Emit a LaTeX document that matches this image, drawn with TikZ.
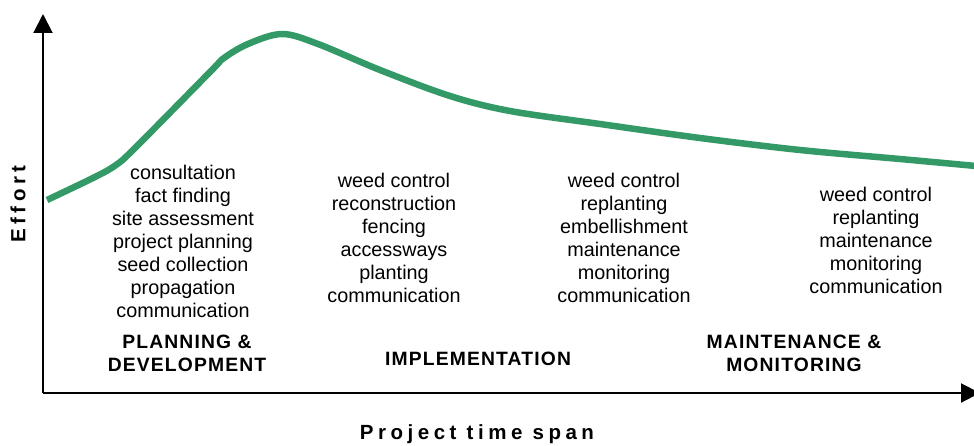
\documentclass[tikz,border=0pt]{standalone}
\usepackage{fontspec}
\setmainfont{Liberation Sans}
\newfontfamily\spacedbold[LetterSpace=22]{Liberation Sans Bold}
\newfontfamily\phasebold[LetterSpace=6]{Liberation Sans Bold}
\usetikzlibrary{arrows.meta}
\definecolor{curvegreen}{RGB}{51,153,102}
\tikzset{
  axis/.style={line width=2pt,-{Triangle[length=19pt,width=19pt]}},
  tasks/.style={align=center,inner sep=0pt,font=\fontsize{19.8}{23}\selectfont},
  phase/.style={align=center,inner sep=0pt,font=\fontsize{19.3}{23}\phasebold},
  axislabel/.style={inner sep=0pt,font=\fontsize{20.5}{23}\spacedbold},
  effortcurve/.style={line width=6.5pt,curvegreen,line cap=butt}
}
\begin{document}
\begin{tikzpicture}[x=1pt,y=-1pt]
\useasboundingbox (0,0) rectangle (974,446);
\coordinate (origin) at (43,393);
\coordinate (ytip) at (43,14);
\coordinate (xtip) at (980,393);
\draw[axis] (origin) -- (ytip);
\draw[axis] (origin) -- (xtip);
\draw[effortcurve] plot[smooth,tension=0.55] coordinates {(47,200) (95,177) (116,165) (135,148) (210,72) (224,58) (248,44) (282,34) (318,44) (380,70) (450,96) (510,111) (600,124) (700,138) (800,150) (900,159) (976,166)};
\node[tasks] (t1) at (183,241) {consultation\\fact finding\\site assessment\\project planning\\seed collection\\propagation\\communication};
\node[tasks] (t2) at (394,238) {weed control\\reconstruction\\fencing\\accessways\\planting\\communication};
\node[tasks] (t3) at (624,238) {weed control\\replanting\\embellishment\\maintenance\\monitoring\\communication};
\node[tasks] (t4) at (876,240) {weed control\\replanting\\maintenance\\monitoring\\communication};
\node[phase] (p1) at (187,353) {PLANNING \&\\DEVELOPMENT};
\node[phase] (p2) at (478,359) {IMPLEMENTATION};
\node[phase] (p3) at (794,353) {MAINTENANCE \&\\MONITORING};
\node[axislabel] (xl) at (477,434) {Project time span};
\node[axislabel,rotate=90] (yl) at (18,204) {Effort};
\end{tikzpicture}
\end{document}
